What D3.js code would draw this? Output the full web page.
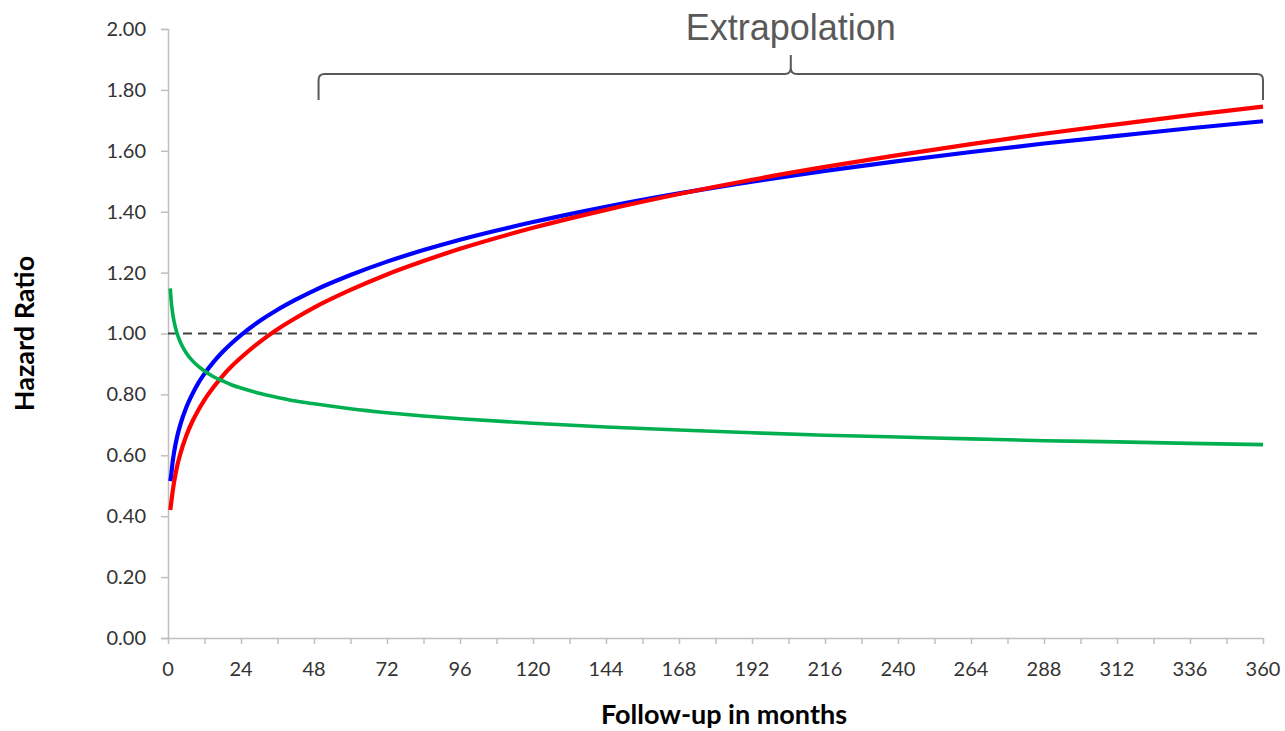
<!DOCTYPE html>
<html>
<head>
<meta charset="utf-8">
<script src="https://cdn.jsdelivr.net/npm/d3@7"></script>
<style>
  html, body { margin: 0; padding: 0; background: #ffffff; }
  svg { display: block; }
</style>
</head>
<body>
<svg id="chart" width="1285" height="731"></svg>
<script>
// Follow-up time (months) at which each curve is sampled
const months = [0.75, 1, 1.5, 2, 3, 4, 6, 8, 10, 12, 15, 18, 21, 24, 30, 36, 42, 48,
  60, 72, 84, 96, 120, 144, 168, 192, 216, 240, 264, 288, 312, 336, 360];

// Hazard ratio over time, one array per curve
const blueHR = [0.515, 0.532, 0.576, 0.610, 0.661, 0.699, 0.757, 0.801, 0.838, 0.868, 0.907,
  0.940, 0.969, 0.995, 1.040, 1.078, 1.111, 1.141, 1.192, 1.236, 1.274, 1.308, 1.366, 1.416,
  1.460, 1.499, 1.534, 1.566, 1.596, 1.624, 1.649, 1.674, 1.697];
const redHR = [0.420, 0.440, 0.479, 0.512, 0.564, 0.603, 0.664, 0.711, 0.749, 0.782, 0.824,
  0.861, 0.893, 0.921, 0.971, 1.014, 1.051, 1.085, 1.143, 1.194, 1.238, 1.278, 1.347, 1.406,
  1.458, 1.505, 1.547, 1.586, 1.622, 1.656, 1.687, 1.717, 1.745];
const greenHR = [1.148, 1.112, 1.068, 1.039, 1.000, 0.973, 0.936, 0.911, 0.892, 0.877, 0.858,
  0.844, 0.831, 0.821, 0.804, 0.790, 0.778, 0.769, 0.753, 0.740, 0.729, 0.720, 0.705, 0.693,
  0.683, 0.674, 0.666, 0.660, 0.654, 0.648, 0.644, 0.639, 0.635];

// Axis ticks
const xTicks = d3.range(0, 361, 24);
const xMinorTicks = d3.range(0, 361, 12);
const yTicks = [0, 0.2, 0.4, 0.6, 0.8, 1.0, 1.2, 1.4, 1.6, 1.8, 2.0];
const referenceHR = 1.0;

// Extrapolated range covered by the brace
const extrapolationRange = [49.5, 360];

const svg = d3.select("#chart");
const x = d3.scaleLinear().domain([0, 360]).range([168, 1263]);
const y = d3.scaleLinear().domain([0, 2]).range([638, 29]);

const axisColor = "#bfbfbf";
const labelColor = "#333333";
const tickFont = "Lato, 'Open Sans', sans-serif";

// Y axis
const yAxis = svg.append("g").attr("transform", `translate(${x(0)},0)`)
  .call(d3.axisLeft(y).tickValues(yTicks).tickFormat(d3.format(".2f")).tickSize(7).tickPadding(15));
yAxis.select(".domain").attr("stroke", axisColor).attr("stroke-width", 1.5);
yAxis.selectAll(".tick line").attr("stroke", axisColor).attr("stroke-width", 1.5);
yAxis.selectAll(".tick text").attr("fill", labelColor)
  .style("font-family", tickFont).style("font-size", "20px");

// X axis: minor ticks every 12 months, labels every 24
const xAxisG = svg.append("g").attr("transform", `translate(0,${y(0)})`);
xAxisG.call(d3.axisBottom(x).tickValues(xMinorTicks).tickFormat("").tickSize(6).tickSizeOuter(0));
xAxisG.select(".domain").attr("stroke", axisColor).attr("stroke-width", 1.5);
xAxisG.selectAll(".tick line").attr("stroke", axisColor).attr("stroke-width", 1.5);
xAxisG.selectAll(".tick text").remove();
xAxisG.selectAll("text.xlabel").data(xTicks).enter().append("text")
  .attr("class", "xlabel")
  .attr("x", d => x(d)).attr("y", 38)
  .attr("text-anchor", "middle")
  .attr("fill", labelColor)
  .style("font-family", tickFont).style("font-size", "20px")
  .text(d => d);

// Reference line at HR = 1
svg.append("line")
  .attr("x1", x(0)).attr("x2", x(360))
  .attr("y1", y(referenceHR)).attr("y2", y(referenceHR))
  .attr("stroke", "#404040").attr("stroke-width", 1.8)
  .attr("stroke-dasharray", "9,6");

// Curves
const line = d3.line()
  .x(d => x(d[0])).y(d => y(d[1]))
  .curve(d3.curveMonotoneX);

const series = [
  { values: blueHR, color: "#0000ff", width: 4.2 },
  { values: redHR, color: "#ff0000", width: 4.2 },
  { values: greenHR, color: "#00b050", width: 3.6 }
];
series.forEach(s => {
  svg.append("path")
    .datum(months.map((m, i) => [m, s.values[i]]))
    .attr("fill", "none")
    .attr("stroke", s.color)
    .attr("stroke-width", s.width)
    .attr("stroke-linejoin", "round")
    .attr("d", line);
});

// Axis titles
svg.append("text")
  .attr("transform", `translate(34,${(y(0) + y(2)) / 2}) rotate(-90)`)
  .attr("text-anchor", "middle")
  .attr("fill", "#000")
  .style("font-family", tickFont).style("font-size", "27px").style("font-weight", "bold")
  .text("Hazard Ratio");

svg.append("text")
  .attr("x", 724).attr("y", 724)
  .attr("text-anchor", "middle")
  .attr("fill", "#000")
  .style("font-family", tickFont).style("font-size", "27px").style("font-weight", "bold")
  .text("Follow-up in months");

// Brace over the extrapolated period
const bx0 = x(extrapolationRange[0]), bx1 = x(extrapolationRange[1]);
const bMid = (bx0 + bx1) / 2;
const bTop = 74, bBottom = 100, bTip = 55, r = 6;
const bracePath = d3.path();
bracePath.moveTo(bx0, bBottom);
bracePath.lineTo(bx0, bTop + r);
bracePath.quadraticCurveTo(bx0, bTop, bx0 + r, bTop);
bracePath.lineTo(bMid - r, bTop);
bracePath.quadraticCurveTo(bMid, bTop, bMid, bTop - r);
bracePath.lineTo(bMid, bTip);
bracePath.moveTo(bMid, bTop - r);
bracePath.quadraticCurveTo(bMid, bTop, bMid + r, bTop);
bracePath.lineTo(bx1 - r, bTop);
bracePath.quadraticCurveTo(bx1, bTop, bx1, bTop + r);
bracePath.lineTo(bx1, bBottom);
svg.append("path")
  .attr("d", bracePath.toString())
  .attr("fill", "none")
  .attr("stroke", "#595959")
  .attr("stroke-width", 2);

svg.append("text")
  .attr("x", bMid).attr("y", 40)
  .attr("text-anchor", "middle")
  .attr("fill", "#595959")
  .style("font-family", "'Liberation Sans', Arial, sans-serif")
  .style("font-size", "36px")
  .text("Extrapolation");
</script>
</body>
</html>
